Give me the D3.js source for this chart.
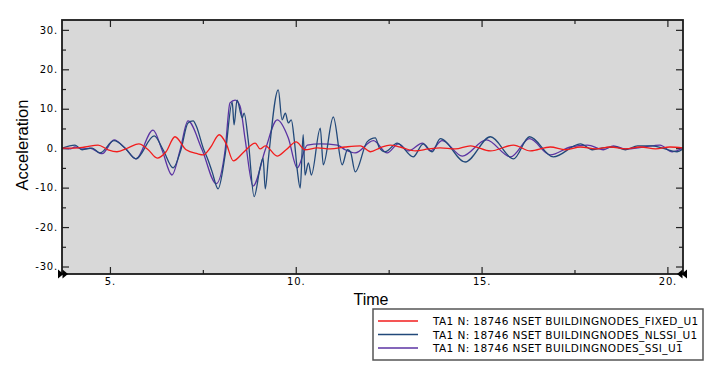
<!DOCTYPE html>
<html>
<head>
<meta charset="utf-8">
<script src="https://cdn.jsdelivr.net/npm/d3@7"></script>
<style>
  body { margin: 0; background: #fff; }
  svg { display: block; font-family: "DejaVu Sans", Verdana, sans-serif; }
</style>
</head>
<body>
<svg width="708" height="371"></svg>
<script>
// series: [time, acceleration]
const fixedU1 = [
  [3.71, 0.0], [4.06, 0.0], [4.33, 0.3], [4.68, 0.8], [4.95, -0.4], [5.19, -0.9], [5.49, 0.1],
  [5.78, 1.1], [6.03, -0.4], [6.27, -2.5], [6.51, -0.9], [6.75, 2.9], [7.05, -0.4], [7.35, -1.4],
  [7.51, -1.7], [7.70, 0.1], [7.94, 3.4], [8.13, 1.1], [8.32, -3.2], [8.61, -0.9], [8.91, 1.3],
  [9.04, -0.2], [9.18, 0.6], [9.50, -2.0], [9.74, -0.4], [10.01, 1.6], [10.25, -0.4], [10.58, 0.1],
  [10.93, -0.2], [11.33, 0.3], [11.74, 0.6], [12.01, -0.9], [12.27, 0.1], [12.54, 0.8], [12.81, 0.3],
  [13.22, -0.7], [13.57, -0.2], [13.89, 0.1], [14.29, -0.2], [14.70, 0.6], [15.24, -0.7], [15.86, 0.8],
  [16.31, -0.7], [16.85, 0.3], [17.26, -0.4], [17.66, 0.3], [18.07, -0.2], [18.47, 0.3], [18.87, -0.2],
  [19.28, 0.3], [19.68, -0.2], [20.07, 0.3], [20.42, 0.1]
];

const nlssiU1 = [
  [3.71, 0.0], [4.06, 0.8], [4.25, -0.4], [4.52, 0.0], [4.73, -1.2], [5.11, 1.9], [5.41, 0.0],
  [5.70, -2.7], [6.19, 3.1], [6.43, -0.4], [6.70, -5.0], [6.91, -0.4], [7.10, 6.4], [7.24, 6.9],
  [7.32, 5.7], [7.51, 0.0], [7.64, -3.0], [7.75, -6.0], [7.91, -10.3], [8.10, -1.7], [8.29, 11.7],
  [8.34, 5.9], [8.42, 12.2], [8.56, 7.7], [8.61, 8.9], [8.72, 2.1], [8.88, -12.3], [9.04, -5.0],
  [9.12, -2.5], [9.18, -10.3], [9.26, -3.0], [9.53, 14.8], [9.63, 7.2], [9.72, 8.9], [9.80, 6.4],
  [9.88, 7.2], [9.96, 2.1], [10.04, -5.5], [10.12, -10.1], [10.20, 3.4], [10.25, -6.8], [10.34, -3.7],
  [10.42, -6.8], [10.66, 5.1], [10.74, -4.2], [11.01, 7.9], [11.25, -4.2], [11.39, -0.4], [11.47, -0.9],
  [11.60, -6.0], [11.92, 1.6], [12.14, 2.6], [12.25, 0.1], [12.41, -0.9], [12.73, 1.3], [13.16, -2.2],
  [13.43, 1.1], [13.67, -0.9], [13.89, 2.4], [14.56, -3.5], [15.24, 2.9], [15.86, -2.7], [16.29, 2.9],
  [16.93, -2.2], [17.66, 1.1], [17.98, -0.4], [18.28, 0.1], [18.60, 0.3], [18.87, -0.4], [19.20, 0.6],
  [19.60, 0.6], [19.94, -0.2], [20.26, -0.9], [20.42, -0.2]
];

const ssiU1 = [
  [3.71, 0.0], [3.93, -0.2], [4.06, 0.3], [4.25, -0.2], [4.46, 0.0], [4.79, -1.4], [5.11, 2.1],
  [5.41, 0.0], [5.70, -2.7], [6.16, 4.6], [6.40, -0.4], [6.67, -6.8], [6.89, -0.4], [7.10, 6.9],
  [7.48, -0.4], [7.86, -9.0], [8.10, -0.4], [8.23, 11.5], [8.37, 12.2], [8.50, 10.7], [8.64, 2.1],
  [8.85, -9.6], [9.18, -0.4], [9.50, 7.2], [9.80, 2.6], [10.04, -5.0], [10.31, 0.8], [10.66, 1.1],
  [11.12, 0.8], [11.33, -0.4], [11.60, -1.2], [12.09, 1.9], [12.46, -1.2], [12.76, 1.1], [13.03, -0.7],
  [13.41, 1.3], [13.62, -0.7], [13.94, 1.9], [14.48, -2.0], [15.13, 2.1], [15.78, -2.2], [16.29, 2.4],
  [16.85, -1.7], [17.39, 0.3], [17.85, 0.8], [18.28, -0.4], [18.55, 0.6], [18.87, -0.2], [19.36, 0.3],
  [19.80, 0.8], [20.13, -0.9], [20.42, 0.1]
];

const xMajor = [5, 10, 15, 20];
const xMinor = [7.5, 12.5, 17.5];
const yMajor = [-30, -20, -10, 0, 10, 20, 30];
const yMinor = [-25, -15, -5, 5, 15, 25];
const seriesNames = [
  "TA1 N: 18746 NSET BUILDINGNODES_FIXED_U1",
  "TA1 N: 18746 NSET BUILDINGNODES_NLSSI_U1",
  "TA1 N: 18746 NSET BUILDINGNODES_SSI_U1"
];
const seriesColors = ["#f21c1c", "#22497a", "#5b33a3"];

const svg = d3.select("svg");
const plot = { left: 62, top: 20, right: 683, bottom: 274 };

const x = d3.scaleLinear().domain([3.71, 20.42]).range([plot.left, plot.right]);
const y = d3.scaleLinear().domain([-31.9, 32.5]).range([plot.bottom, plot.top]);

// plot background
svg.append("rect")
  .attr("x", plot.left).attr("y", plot.top)
  .attr("width", plot.right - plot.left).attr("height", plot.bottom - plot.top)
  .attr("fill", "#d8d8d8");

svg.append("clipPath").attr("id", "clip")
  .append("rect")
  .attr("x", plot.left).attr("y", plot.top)
  .attr("width", plot.right - plot.left).attr("height", plot.bottom - plot.top);

const fmt = d => String(d) + ".";

// axes, ticks pointing inward
function axis(gen, tx, ty, values, size, labels) {
  const g = svg.append("g")
    .attr("transform", `translate(${tx},${ty})`)
    .call(gen.tickValues(values).tickSize(-size).tickPadding(labels ? 4 : 0)
      .tickFormat(labels ? fmt : ""));
  g.select(".domain").remove();
  g.selectAll(".tick line").attr("stroke", "#222").attr("stroke-width", 1.2);
  g.selectAll("text")
    .attr("font-family", "DejaVu Sans, Verdana, sans-serif")
    .attr("font-size", 10).attr("letter-spacing", 0.8).attr("fill", "#000");
  return g;
}

axis(d3.axisLeft(y), plot.left, 0, yMajor, 7, true);
axis(d3.axisLeft(y), plot.left, 0, yMinor, 4, false);
axis(d3.axisRight(y), plot.right, 0, yMajor, 7, false);
axis(d3.axisRight(y), plot.right, 0, yMinor, 4, false);
axis(d3.axisBottom(x), 0, plot.bottom, xMajor, 7, true);
axis(d3.axisBottom(x), 0, plot.bottom, xMinor, 4, false);
axis(d3.axisTop(x), 0, plot.top, xMajor, 7, false);
axis(d3.axisTop(x), 0, plot.top, xMinor, 4, false);

// curves
const line = d3.line()
  .x(d => x(d[0]))
  .y(d => y(d[1]))
  .curve(d3.curveMonotoneX);

const series = [ssiU1, nlssiU1, fixedU1];
const seriesColorIdx = [2, 1, 0];
const lines = svg.append("g").attr("clip-path", "url(#clip)");
series.forEach((s, i) => {
  lines.append("path")
    .datum(s)
    .attr("fill", "none")
    .attr("stroke", seriesColors[seriesColorIdx[i]])
    .attr("stroke-width", 1.3)
    .attr("stroke-linejoin", "round")
    .attr("d", line);
});

// frame
svg.append("rect")
  .attr("x", plot.left).attr("y", plot.top)
  .attr("width", plot.right - plot.left).attr("height", plot.bottom - plot.top)
  .attr("fill", "none")
  .attr("stroke", "#1a1a1a")
  .attr("stroke-width", 1.8);

// scroll arrows at both ends of the time axis
const arrow = (x0, dir) => {
  for (let k = 0; k < 2; k++) {
    const tip = x0 + dir * k * 4.5;
    svg.append("path")
      .attr("d", `M${tip},${plot.bottom} l${-dir * 5.5},-4.5 l0,9 Z`)
      .attr("fill", "#000");
  }
};
arrow(plot.left + 1.5, 1);
arrow(plot.right - 1.5, -1);

// axis titles
svg.append("text")
  .attr("x", 371).attr("y", 305)
  .attr("text-anchor", "middle")
  .attr("font-family", "Liberation Sans, Arial, sans-serif")
  .attr("font-size", 16)
  .text("Time");

svg.append("text")
  .attr("transform", "translate(28,145) rotate(-90)")
  .attr("text-anchor", "middle")
  .attr("font-family", "Liberation Sans, Arial, sans-serif")
  .attr("font-size", 16.5)
  .text("Acceleration");

// legend
const legend = svg.append("g").attr("transform", "translate(373,309)");
legend.append("rect")
  .attr("width", 330).attr("height", 51)
  .attr("fill", "#fff")
  .attr("stroke", "#555")
  .attr("stroke-width", 1.5);

seriesNames.forEach((name, i) => {
  const row = legend.append("g").attr("transform", `translate(0,${12 + i * 13.5})`);
  row.append("line")
    .attr("x1", 5).attr("x2", 45)
    .attr("stroke", seriesColors[i])
    .attr("stroke-width", 1.5);
  row.append("text")
    .attr("x", 60).attr("y", 4)
    .attr("font-size", 10.5)
    .attr("letter-spacing", 0.4)
    .text(name);
});
</script>
</body>
</html>
